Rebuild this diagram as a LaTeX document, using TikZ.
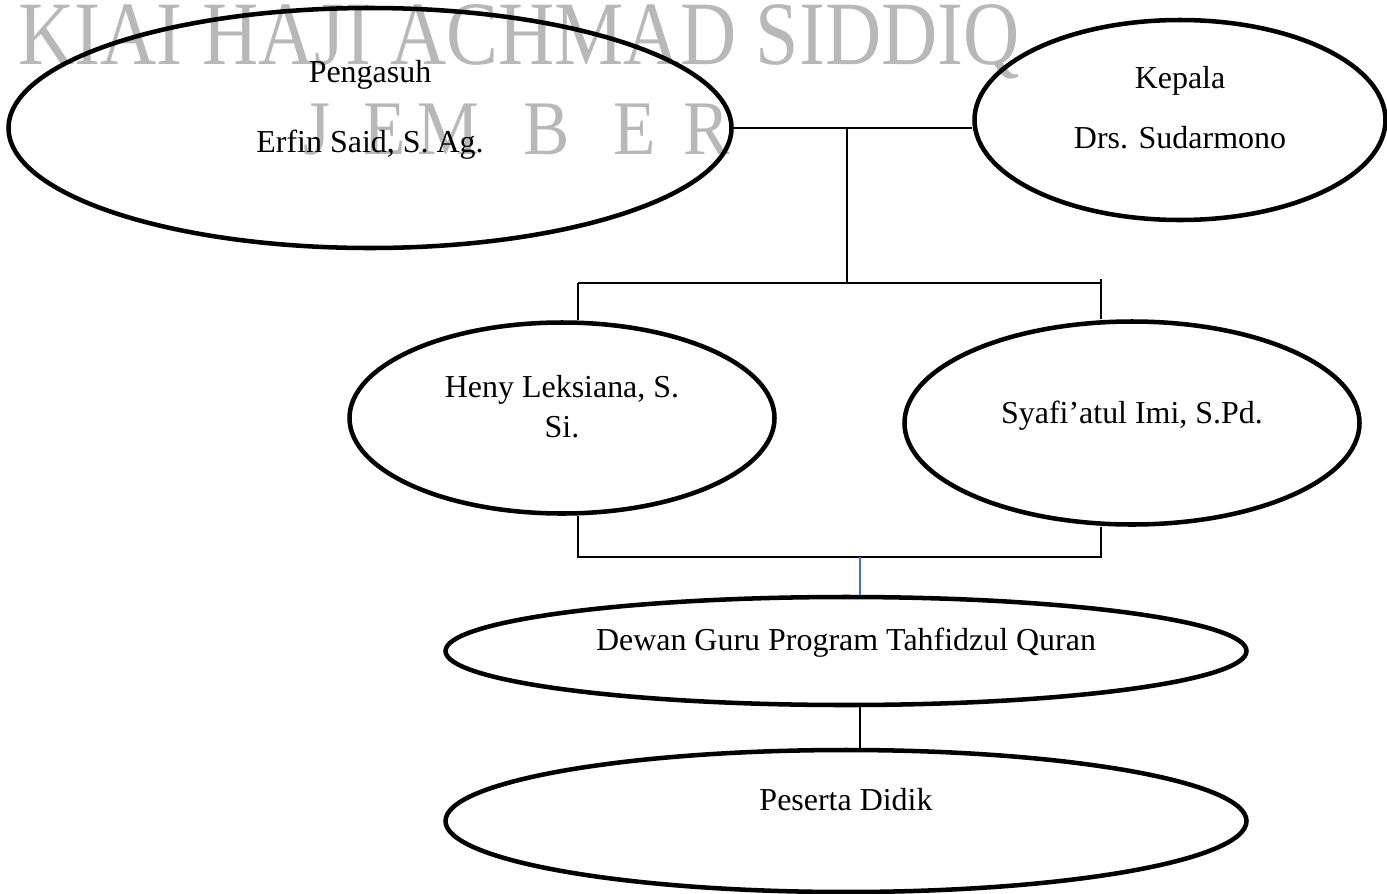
\documentclass[tikz,border=0pt]{standalone}
\usepackage{graphicx}
\usepackage{fontspec}
\setmainfont{Liberation Serif}
\usetikzlibrary{shapes.geometric}

\definecolor{wmgray}{RGB}{184,184,184}
\definecolor{linkblue}{RGB}{68,114,196}

\tikzset{
  unit/.style={ellipse, draw, line width=1.7pt, align=center, inner sep=0pt,
    font=\fontsize{12}{14.4}\selectfont},
  link/.style={line width=0.6pt},
  mark wm/.style={wmgray, anchor=base west, inner sep=0pt},
}

\begin{document}
\begin{tikzpicture}[x=0.0132cm, y=-0.0132cm]
  \useasboundingbox (0,0) rectangle (1387,893);

  % Watermark
  \node[mark wm, font=\fontsize{34}{34}\selectfont] (wmtop) at (18,64)
    {\scalebox{0.86}[1]{KIAI HAJI ACHMAD SIDDIQ}};
  \foreach \ch/\xx in {J/303, E/363, M/417, B/523, E/613, R/683}
    \node[mark wm, font=\fontsize{29}{29}\selectfont] (wm-\xx) at (\xx,154)
      {\scalebox{0.9}[1]{\ch}};

  % Units
  \node[unit, minimum width=723*0.0132cm, minimum height=240*0.0132cm] (pengasuh) at (370,128)
    {Pengasuh\\[11.85pt]Erfin Said, S. Ag.\\[2.1pt]\mbox{}};
  \node[unit, minimum width=411*0.0132cm, minimum height=200*0.0132cm] (kepala) at (1180,120)
    {Kepala\\[8.1pt]Drs. Sudarmono\\[-4.65pt]\mbox{}};
  \node[unit, minimum width=425*0.0132cm, minimum height=191*0.0132cm] (heny) at (562,418)
    {Heny Leksiana, S.\\[0.6pt]Si.\\[-5.4pt]\mbox{}};
  \node[unit, minimum width=455*0.0132cm, minimum height=203*0.0132cm] (syafi) at (1132,423)
    {Syafi’atul Imi, S.Pd.\\[-6.2pt]\mbox{}};
  \node[unit, minimum width=801*0.0132cm, minimum height=108*0.0132cm] (dewan) at (846,651)
    {Dewan Guru Program Tahfidzul Quran\\[-5.4pt]\mbox{}};
  \node[unit, minimum width=801*0.0132cm, minimum height=142*0.0132cm] (peserta) at (846,821)
    {Peserta Didik\\[2.1pt]\mbox{}};

  % Connectors
  \coordinate (jtop) at (847,128);
  \coordinate (jmid) at (847,283);
  \coordinate (jl) at (578,283);
  \coordinate (jr) at (1101,283);
  \coordinate (jrtop) at (1101,279);
  \coordinate (bl) at (578,557);
  \coordinate (br) at (1101,557);
  \coordinate (bm) at (860,557);

  \draw[link] (pengasuh.east) -- (pengasuh.east -| kepala.west);
  \draw[link] (jtop) -- (jmid);
  \draw[link] (jl) -- (jr);
  \draw[link] (jl) -- (jl |- heny.north);
  \draw[link] (jrtop) -- (jrtop |- syafi.north);
  \draw[link] (bl |- heny.south) -- (bl) -- (br) -- (br |- syafi.south);
  \draw[link, linkblue] (bm) -- (bm |- dewan.north);
  \draw[link] (bm |- dewan.south) -- (bm |- peserta.north);
\end{tikzpicture}
\end{document}
